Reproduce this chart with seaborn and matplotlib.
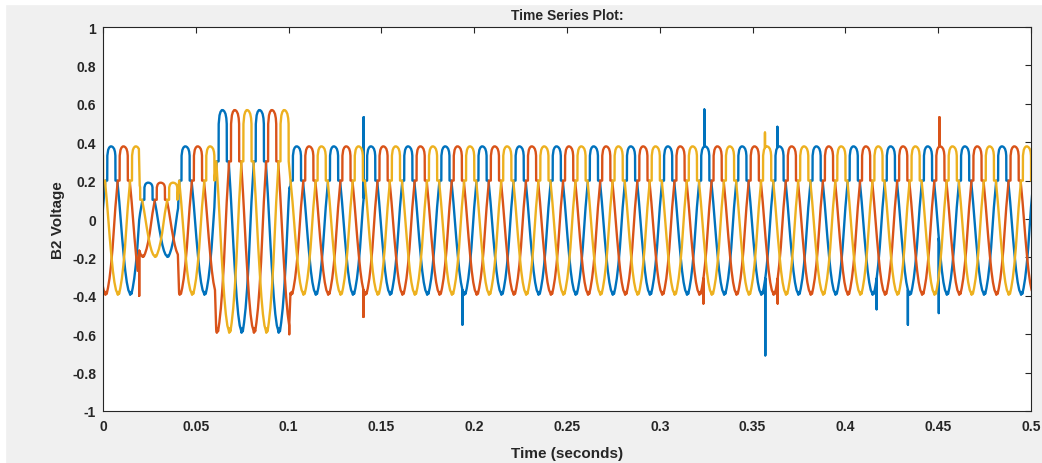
import numpy as np
import pandas as pd
import seaborn as sns
import matplotlib.pyplot as plt
from matplotlib.patches import Rectangle
from matplotlib.ticker import FuncFormatter

# one 50 Hz cycle of phase A (blue), read off a steady part of the trace
# angle inside the cycle (deg) and voltage
shape_deg = [0, 8, 16, 23, 41, 42, 50, 60, 72, 84, 96, 108, 116, 120, 121, 139, 148, 158,
             171, 186, 201, 216, 231, 246, 258, 264, 270, 276, 288, 303, 318, 333, 351]
shape_v = [0.06, 0.11, 0.16, 0.20, 0.20, 0.33, 0.36, 0.372, 0.378, 0.378, 0.374, 0.365, 0.35, 0.33,
           0.20, 0.20, 0.15, 0.09, 0.0, -0.10, -0.19, -0.27, -0.33, -0.37, -0.385, -0.395, -0.38,
           -0.39, -0.36, -0.31, -0.24, -0.15, -0.01]

period = 0.02
n_cycles = 25
phases = ['A', 'B', 'C']
phase_delay = [0.0, 0.02 / 3, 0.04 / 3]
colors = ['#0072BD', '#D95319', '#EDB120']

# sag and swell windows
event_start = [0.0195, 0.0604]
event_end = [0.0405, 0.1005]
event_gain = [0.5, 1.5]

# impulses: phase, time, peak value
spike_phase = ['B', 'A', 'B', 'A', 'A', 'B', 'C', 'A', 'A', 'B', 'A', 'A', 'A', 'B', 'B']
spike_t = [0.0197, 0.1405, 0.1405, 0.1936, 0.3238, 0.3232, 0.3570, 0.3570, 0.3635, 0.3635,
           0.4168, 0.4339, 0.4504, 0.4504, 0.1000]
spike_v = [-0.40, 0.53, -0.51, -0.55, 0.57, -0.44, 0.45, -0.71, 0.48, -0.44,
           -0.47, -0.55, -0.49, 0.53, -0.60]


def phase_trace(name, delay):
    ts, vs = [], []
    for k in range(-1, n_cycles + 1):
        for a, v in zip(shape_deg, shape_v):
            t = k * period + a / 360 * period + delay
            g = 1.0
            for s, e, gain in zip(event_start, event_end, event_gain):
                if s <= t < e:
                    g = gain
            ts.append(t)
            vs.append(v * g)
    ts, vs = np.array(ts), np.array(vs)
    order = np.argsort(ts, kind='stable')
    ts, vs = list(ts[order]), list(vs[order])
    for p, st, sv in sorted(zip(spike_phase, spike_t, spike_v), key=lambda x: -x[1]):
        if p != name:
            continue
        i = int(np.argmin(np.abs(np.array(ts) - st)))
        ts[i + 1:i + 1] = [ts[i], ts[i]]
        vs[i + 1:i + 1] = [sv, vs[i]]
    return pd.DataFrame({'t': ts, 'v': vs, 'phase': name})


df = pd.concat([phase_trace(p, d) for p, d in zip(phases, phase_delay)], ignore_index=True)

sns.set_style('white')
plt.rcParams['font.family'] = ['Liberation Sans', 'DejaVu Sans']
plt.rcParams['axes.unicode_minus'] = False

fig = plt.figure(figsize=(10.42, 4.64), dpi=100, facecolor='#f0f0f0')
fig.patches.append(Rectangle((0, 1 - 5 / 464), 1, 5 / 464, transform=fig.transFigure,
                             color='white', zorder=0))
fig.patches.append(Rectangle((0, 0), 5 / 1042, 1, transform=fig.transFigure,
                             color='white', zorder=0))
ax = fig.add_axes([103 / 1042, 52 / 464, 928 / 1042, 384 / 464])
ax.set_facecolor('white')

sns.lineplot(data=df, x='t', y='v', hue='phase', palette=colors, estimator=None, sort=False,
             legend=False, linewidth=1.7, ax=ax)

ax.set_xlim(0, 0.5)
ax.set_ylim(-1, 1)
ax.set_xticks(np.arange(0, 0.5001, 0.05))
ax.set_yticks(np.arange(-1, 1.0001, 0.2))


def tick_fmt(x, pos):
    x = round(x, 2)
    if x == 0:
        return '0'
    return '{:g}'.format(x)


ax.xaxis.set_major_formatter(FuncFormatter(tick_fmt))
ax.yaxis.set_major_formatter(FuncFormatter(tick_fmt))
ax.tick_params(direction='in', length=4, width=0.8, colors='#262626', labelsize=10,
               top=True, right=True)
ax.tick_params(axis='x', pad=6)
ax.tick_params(axis='y', pad=5)
for lab in ax.get_xticklabels() + ax.get_yticklabels():
    lab.set_fontweight('bold')
for sp in ax.spines.values():
    sp.set_color('#262626')
    sp.set_linewidth(0.8)

ax.set_xlabel('Time (seconds)', fontsize=11, fontweight='bold', color='#262626', labelpad=9)
ax.set_ylabel('B2 Voltage', fontsize=11, fontweight='bold', color='#262626', labelpad=5)
ax.set_title('Time Series Plot:', fontsize=10, fontweight='bold', color='#262626', pad=6)

fig.savefig('out.png', dpi=100, facecolor=fig.get_facecolor())
